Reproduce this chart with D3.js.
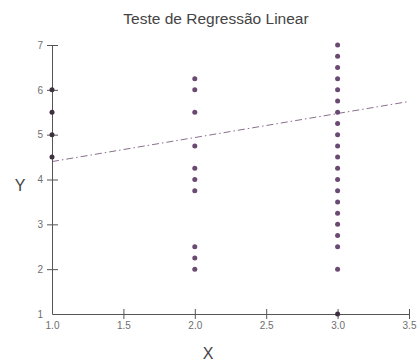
<!DOCTYPE html>
<html>
<head>
<meta charset="utf-8">
<script src="https://cdn.jsdelivr.net/npm/d3@7"></script>
<style>
  body { margin: 0; background: #fff; }
  text { font-family: "Liberation Sans", Arial, sans-serif; }
</style>
</head>
<body>
<div id="chart"></div>
<script>
// observations, grouped by x
let xs1 = [1, 1, 1, 1];
let ys1 = [6, 5.5, 5, 4.5];
let xs2 = [2, 2, 2, 2, 2, 2, 2, 2, 2, 2];
let ys2 = [6.25, 6, 5.5, 4.75, 4.25, 4, 3.75, 2.5, 2.25, 2];
let xs3 = [3, 3, 3, 3, 3, 3, 3, 3, 3, 3, 3, 3, 3, 3, 3, 3, 3, 3, 3, 3, 3];
let ys3 = [7, 6.75, 6.5, 6.25, 6, 5.75, 5.5, 5.25, 5, 4.75, 4.5, 4.25, 4, 3.75, 3.5, 3.25, 3, 2.75, 2.5, 2, 1];

// fitted line end points
let fitX = [1.0, 3.5];
let fitY = [4.40, 5.74];

let xTicks = [1.0, 1.5, 2.0, 2.5, 3.0, 3.5];
let yTicks = [1, 2, 3, 4, 5, 6, 7];

let width = 418, height = 363;
let margin = {top: 45, right: 9, bottom: 49, left: 52};

let svg = d3.select("#chart").append("svg")
    .attr("width", width)
    .attr("height", height);

let x = d3.scaleLinear()
    .domain([1, 3.5])
    .range([margin.left, width - margin.right]);

let y = d3.scaleLinear()
    .domain([1, 7])
    .range([height - margin.bottom, margin.top]);

let points = [];
[[xs1, ys1], [xs2, ys2], [xs3, ys3]].forEach(function(g) {
    g[0].forEach(function(v, i) { points.push({x: v, y: g[1][i]}); });
});

// title
svg.append("text")
    .attr("x", 216)
    .attr("y", 24)
    .attr("text-anchor", "middle")
    .style("font-size", "15.5px")
    .style("fill", "#444")
    .text("Teste de Regressão Linear");

// regression line
svg.append("line")
    .attr("x1", x(fitX[0]))
    .attr("y1", y(fitY[0]))
    .attr("x2", x(fitX[1]))
    .attr("y2", y(fitY[1]))
    .style("stroke", "#8a6f8e")
    .style("stroke-width", 1)
    .style("stroke-dasharray", "7,3,1.5,3");

// axes
let xAxis = d3.axisBottom(x)
    .tickValues(xTicks)
    .tickFormat(d3.format(".1f"))
    .tickSizeInner(5)
    .tickSizeOuter(0);

let yAxis = d3.axisLeft(y)
    .tickValues(yTicks)
    .tickFormat(d3.format("d"))
    .tickSizeInner(5)
    .tickSizeOuter(0);

let gx = svg.append("g")
    .attr("transform", "translate(0," + y(1) + ")")
    .call(xAxis);
gx.select(".domain").attr("stroke", "#555");
gx.selectAll(".tick line").attr("stroke", "#555").attr("y1", -5);
gx.selectAll(".tick text")
    .attr("y", 8)
    .style("font-size", "10px")
    .style("fill", "#6e6e6e")
    .style("font-family", "'Liberation Sans', Arial, sans-serif");
gx.selectAll(".tick").filter(function(d) { return d === 1; }).select("line").remove();

let gy = svg.append("g")
    .attr("transform", "translate(" + x(1) + ",0)")
    .call(yAxis);
gy.select(".domain").attr("stroke", "#555");
gy.selectAll(".tick line").attr("stroke", "#555").attr("x1", 6);
gy.selectAll(".tick text")
    .attr("x", -9)
    .style("font-size", "10px")
    .style("fill", "#6e6e6e")
    .style("font-family", "'Liberation Sans', Arial, sans-serif");
gy.selectAll(".tick").filter(function(d) { return d === 1; }).select("line").remove();

// points
svg.selectAll(".pt")
    .data(points)
    .enter().append("circle")
    .attr("class", "pt")
    .attr("cx", function(d) { return x(d.x); })
    .attr("cy", function(d) { return y(d.y); })
    .attr("r", 2.5)
    .style("fill", function(d) { return d.x === 1 || d.y === 1 ? "#3e3040" : "#6a4a72"; });

// axis titles
svg.append("text")
    .attr("x", 20)
    .attr("y", 191)
    .attr("text-anchor", "middle")
    .style("font-size", "16px")
    .style("fill", "#444")
    .text("Y");

svg.append("text")
    .attr("x", 208)
    .attr("y", 359)
    .attr("text-anchor", "middle")
    .style("font-size", "16px")
    .style("fill", "#444")
    .text("X");
</script>
</body>
</html>
